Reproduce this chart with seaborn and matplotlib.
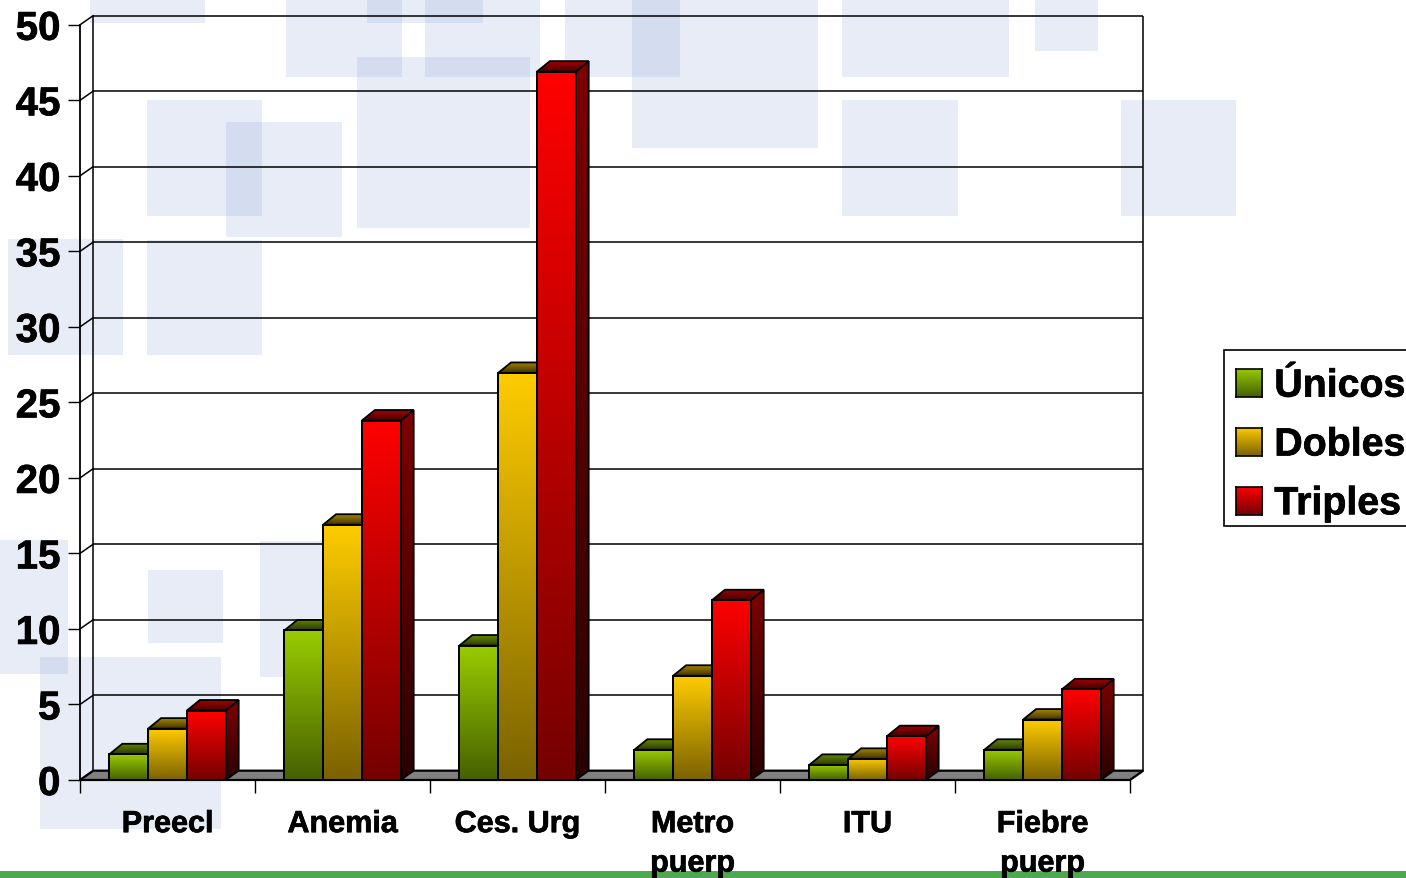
import numpy as np
import pandas as pd
import matplotlib
matplotlib.use('Agg')
import matplotlib.pyplot as plt
import matplotlib.patheffects as pe
import seaborn as sns
from matplotlib.colors import to_rgb
from matplotlib.patches import Patch, Polygon, Rectangle
from matplotlib.transforms import Affine2D, IdentityTransform

# Chart values
categories = ['Preecl', 'Anemia', 'Ces. Urg', 'Metro\npuerp', 'ITU', 'Fiebre\npuerp']
series_names = ['Únicos', 'Dobles', 'Triples']
unicos = [1.7, 9.9, 8.9, 2, 1, 2]
dobles = [3.4, 16.9, 26.95, 6.9, 1.4, 4]
triples = [4.6, 23.8, 46.9, 11.9, 2.9, 6]
y_ticks = [0, 5, 10, 15, 20, 25, 30, 35, 40, 45, 50]

# Faces of each series: front top, front bottom, side top, side bottom, cap back, cap front
face_colors = {
    'Únicos': ['#99cc00', '#466000', '#4d6600', '#1f2900', '#668800', '#2b3a00'],
    'Dobles': ['#ffcc00', '#7a6200', '#7f6600', '#332900', '#a68500', '#3d3100'],
    'Triples': ['#ff0000', '#750000', '#7f0000', '#2a0000', '#a80000', '#400000'],
}

# Pale squares of the slide template, as pixel boxes (x0, y0, x1, y1)
template_squares = [
    (90, 0, 205, 23), (286, 0, 402, 77), (367, 0, 483, 23), (425, 0, 540, 77),
    (565, 0, 680, 77), (357, 57, 530, 228), (632, 0, 818, 148), (842, 0, 1009, 77),
    (1035, 0, 1098, 51), (147, 100, 262, 216), (226, 122, 342, 237),
    (842, 100, 958, 216), (1121, 100, 1236, 216), (8, 239, 123, 355),
    (147, 240, 262, 355), (0, 540, 68, 674), (148, 570, 223, 643),
    (260, 541, 336, 677), (40, 657, 221, 829),
]

W, H = 1406, 878
WALL_DX, WALL_DY = 13.3, 9.3
BAR_DX, BAR_DY = 13, 10.5
STROKE = [pe.withStroke(linewidth=0.5, foreground='black')]

sns.set_theme(style='white')
plt.rcParams['font.family'] = ['Liberation Sans', 'DejaVu Sans']
plt.rcParams['font.weight'] = 'bold'
plt.rcParams['text.color'] = 'black'
plt.rcParams['xtick.labelcolor'] = 'black'
plt.rcParams['ytick.labelcolor'] = 'black'

fig = plt.figure(figsize=(W / 100, (H + 0.2) / 100), dpi=100, facecolor='white')
ax = fig.add_axes([80 / W, (H - 780) / H, (1130 - 80) / W, 755 / H])
ax.patch.set_visible(False)

# Template decoration, entered in picture pixels
px = Affine2D().scale(1, -1).translate(0, H)
for x0, y0, x1, y1 in template_squares:
    fig.add_artist(Rectangle((x0, y0), x1 - x0, y1 - y0, transform=px, zorder=-2,
                             facecolor='#6686ca', alpha=0.15, linewidth=0))
fig.add_artist(Rectangle((0, 871), W, 7, transform=px, zorder=-1,
                         facecolor='#4ea850', linewidth=0))

df = pd.DataFrame({
    'categoria': categories * 3,
    'serie': np.repeat(series_names, len(categories)),
    'valor': unicos + dobles + triples,
})
sns.barplot(data=df, x='categoria', y='valor', hue='serie', hue_order=series_names,
            width=0.665, gap=0, dodge=True, legend=False, ax=ax,
            fill=False, edgecolor='black', linewidth=1.3, err_kws={'linewidth': 0})

ax.set_xlim(-0.5, len(categories) - 0.5)
ax.set_ylim(0, 50)
ax.autoscale(False)
fig.canvas.draw()


def gradient_face(points, top, bottom, zorder):
    # vertical colour ramp clipped to a polygon given in display pixels
    points = np.array(points)
    ramp = np.linspace(to_rgb(top), to_rgb(bottom), 256).reshape(256, 1, 3)
    extent = (points[:, 0].min(), points[:, 0].max(), points[:, 1].min(), points[:, 1].max())
    im = ax.imshow(ramp, extent=extent, aspect='auto', origin='upper', zorder=zorder,
                   interpolation='bilinear', transform=IdentityTransform())
    outline = Polygon(points, closed=True, transform=IdentityTransform(), facecolor='none',
                      edgecolor='black', linewidth=1.3, zorder=zorder + 0.1)
    im.set_clip_path(Polygon(points, closed=True, transform=IdentityTransform()))
    im.set_clip_box(fig.bbox)
    ax.add_patch(outline)
    outline.set_clip_on(False)


# Back wall, floor and grid
back = ax.transData + Affine2D().translate(WALL_DX, WALL_DY)
x_lo, x_hi = ax.get_xlim()
line_kw = dict(color='black', linewidth=1.1, clip_on=False, zorder=2)
to_px = ax.transData.transform
floor = [to_px((x_lo, 0)), to_px((x_hi, 0)),
         to_px((x_hi, 0)) + (WALL_DX, WALL_DY), to_px((x_lo, 0)) + (WALL_DX, WALL_DY)]
ax.add_patch(Polygon(floor, closed=True, transform=IdentityTransform(), facecolor='#808080',
                     edgecolor='black', linewidth=1.6, zorder=2.5, clip_on=False))
ax.hlines(y_ticks[1:], x_lo, x_hi, transform=back, **line_kw)
ax.vlines([x_lo, x_hi], 0, 50, transform=back, **line_kw)
for tick in y_ticks:
    p0 = to_px((x_lo, tick))
    ax.plot([p0[0], p0[0] + WALL_DX], [p0[1], p0[1] + WALL_DY], transform=IdentityTransform(), **line_kw)

# Turn the seaborn bars into boxes: front stays as the seaborn outline, faces go under it
order = 10
bars = sorted(((bar, name) for container, name in zip(ax.containers, series_names) for bar in container),
              key=lambda item: item[0].get_x())
for bar, name in bars:
    colors = face_colors[name]
    (x0, y0), (x1, y1) = to_px((bar.get_x(), 0)), to_px((bar.get_x() + bar.get_width(), bar.get_height()))
    side = [(x1, y0), (x1 + BAR_DX, y0 + WALL_DY), (x1 + BAR_DX, y1 + BAR_DY), (x1, y1)]
    cap = [(x0, y1), (x1, y1), (x1 + BAR_DX, y1 + BAR_DY), (x0 + BAR_DX, y1 + BAR_DY)]
    gradient_face(side, colors[2], colors[3], order)
    gradient_face(cap, colors[4], colors[5], order + 0.2)
    gradient_face([(x0, y0), (x1, y0), (x1, y1), (x0, y1)], colors[0], colors[1], order + 0.4)
    bar.set_zorder(order + 0.6)
    order += 1

# Axes
sns.despine(ax=ax)
for side in ['left', 'bottom']:
    ax.spines[side].set_linewidth(1.3)
    ax.spines[side].set_color('black')
    ax.spines[side].set_zorder(3)
ax.set_xlabel('')
ax.set_ylabel('')
ax.set_yticks(y_ticks)
ax.tick_params(axis='y', length=8.6, width=1, color='black', left=True, labelsize=29, pad=5.5)
ax.set_xticks(np.arange(len(categories) + 1) - 0.5)
ax.set_xticklabels([])
ax.tick_params(axis='x', which='major', length=9.4, width=1, color='black', bottom=True)
ax.set_xticks(np.arange(len(categories)), categories, minor=True)
ax.tick_params(axis='x', which='minor', length=0, labelsize=22, pad=21)
for label in ax.get_xticklabels(minor=True):
    label.set_linespacing(1.41)
    label.set_verticalalignment('top')
    label.set_fontweight('bold')
    label.set_path_effects(STROKE)
for label in ax.get_yticklabels():
    label.set_fontweight('bold')
    label.set_path_effects(STROKE)

# Legend: the box runs past the right edge, swatches get their ramps after layout
fig.add_artist(Rectangle((1224, 350), 300, 176, transform=px, facecolor='white',
                         edgecolor='black', linewidth=1.2, zorder=-0.5))
handles = [Patch(facecolor='none', edgecolor='none', label=name) for name in series_names]
leg = ax.legend(handles=handles, loc='upper left', bbox_to_anchor=(1224 / W, 1 - 357 / H),
                bbox_transform=fig.transFigure, borderaxespad=0, fontsize=28.3, frameon=False,
                handlelength=0.67, handleheight=0.72, handletextpad=0.31, borderpad=0.3,
                labelspacing=0.58)
for text in leg.get_texts():
    text.set_path_effects(STROKE)
fig.canvas.draw()
for patch, name in zip(leg.get_patches(), series_names):
    box = patch.get_window_extent().transformed(fig.transFigure.inverted())
    swatch = fig.add_axes(box.bounds, zorder=5)
    ramp = np.linspace(to_rgb(face_colors[name][0]), to_rgb(face_colors[name][1]), 64).reshape(64, 1, 3)
    swatch.imshow(ramp, aspect='auto', interpolation='bilinear')
    swatch.set_xticks([])
    swatch.set_yticks([])
    for spine in swatch.spines.values():
        spine.set_visible(True)
        spine.set_color('black')
        spine.set_linewidth(1.2)

fig.savefig('out.png', dpi=100)
